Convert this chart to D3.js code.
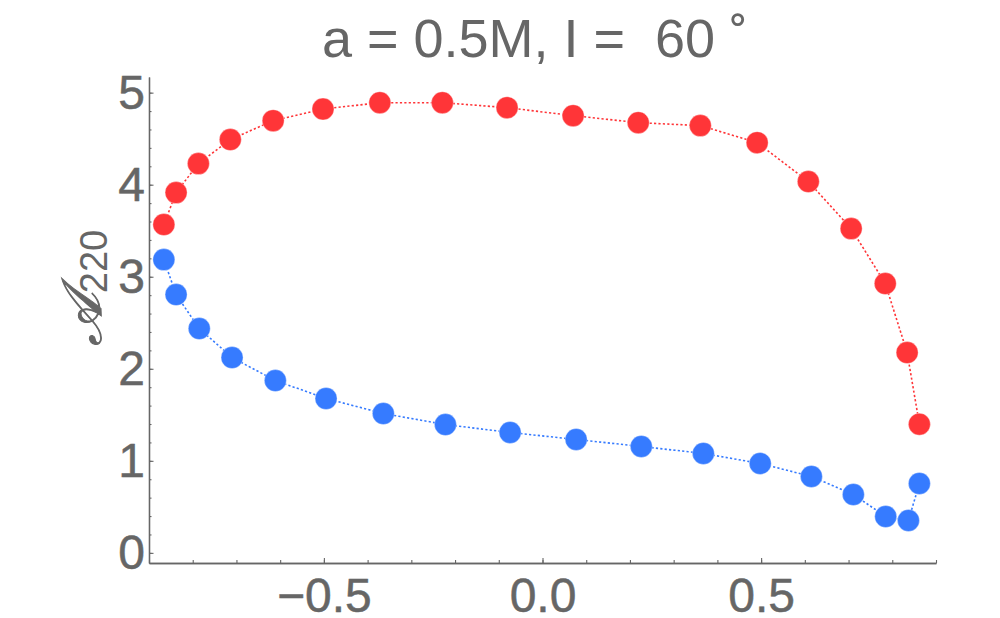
<!DOCTYPE html>
<html>
<head>
<meta charset="utf-8">
<script src="https://cdn.jsdelivr.net/npm/d3@7"></script>
<style>
  body { margin: 0; background: #fff; }
  svg { display: block; font-family: "Liberation Sans", Arial, sans-serif; }
</style>
</head>
<body>
<svg width="1000" height="618"></svg>
<script>
// values
var redX = [-0.866, -0.838, -0.787, -0.714, -0.616, -0.502, -0.372, -0.229, -0.081,
            0.070, 0.219, 0.361, 0.491, 0.608, 0.706, 0.784, 0.834, 0.862];
var redY = [3.567, 3.914, 4.229, 4.490, 4.696, 4.822, 4.891, 4.891, 4.837,
            4.750, 4.674, 4.642, 4.457, 4.034, 3.523, 2.926, 2.176, 1.398];
var blueX = [-0.866, -0.838, -0.785, -0.710, -0.611, -0.495, -0.364, -0.222, -0.074,
             0.077, 0.226, 0.368, 0.498, 0.615, 0.711, 0.785, 0.837, 0.862];
var blueY = [3.186, 2.806, 2.437, 2.122, 1.872, 1.677, 1.514, 1.394, 1.308,
             1.232, 1.156, 1.080, 0.971, 0.830, 0.634, 0.395, 0.352, 0.754];

var xMajor = [-0.5, 0.0, 0.5];
var yMajor = [0, 1, 2, 3, 4, 5];
var titleText = "a = 0.5M, I =  60 \u02DA";

var gray = "#666666";

var svg = d3.select("svg");

var x = d3.scaleLinear().domain([-0.9, 0.9]).range([149, 936]);
var y = d3.scaleLinear().domain([-0.11, 5.17]).range([563, 77]);

// minor ticks
var xMinor = d3.range(-9, 10).map(function(i){ return i / 10; });
var yMinor = d3.range(0, 26).map(function(i){ return i / 5; });

svg.append("g")
  .attr("transform", "translate(" + x(-0.9) + ",0)")
  .call(d3.axisLeft(y).tickValues(yMinor).tickSizeInner(-2.5).tickSizeOuter(0).tickFormat(""));

svg.append("g")
  .attr("transform", "translate(" + x(-0.9) + ",0)")
  .call(d3.axisLeft(y).tickValues(yMajor).tickSizeInner(-4.5).tickSizeOuter(0)
        .tickPadding(4).tickFormat(d3.format("d")));

svg.append("g")
  .attr("transform", "translate(0," + y(-0.11) + ")")
  .call(d3.axisBottom(x).tickValues(xMinor).tickSizeInner(-3).tickSizeOuter(0).tickFormat(""));

svg.append("g")
  .attr("transform", "translate(0," + y(-0.11) + ")")
  .call(d3.axisBottom(x).tickValues(xMajor).tickSizeInner(-5).tickSizeOuter(0)
        .tickPadding(15).tickFormat(d3.format(".1f")));

svg.selectAll(".domain").attr("stroke", gray).attr("stroke-width", 1.3);
svg.selectAll(".tick line").attr("stroke", gray).attr("stroke-width", 1.1);
svg.selectAll(".tick text")
  .attr("fill", gray)
  .attr("stroke", gray)
  .attr("stroke-width", 0.5)
  .style("font-family", "'Liberation Sans', Arial, sans-serif")
  .style("font-size", "48px");

// series
function drawSeries(xs, ys, color){
  var pts = xs.map(function(v, i){ return [v, ys[i]]; });
  var line = d3.line()
    .x(function(d){ return x(d[0]); })
    .y(function(d){ return y(d[1]); });
  svg.append("path")
    .datum(pts)
    .attr("d", line)
    .attr("fill", "none")
    .attr("stroke", color)
    .attr("stroke-width", 1.6)
    .attr("stroke-dasharray", "2.2,2.2");
  svg.append("g").selectAll("circle")
    .data(pts)
    .enter().append("circle")
    .attr("cx", function(d){ return x(d[0]); })
    .attr("cy", function(d){ return y(d[1]); })
    .attr("r", 11)
    .attr("fill", color)
    .attr("stroke", "rgba(255,255,255,0.35)")
    .attr("stroke-width", 1);
}

drawSeries(redX, redY, "#ff3538");
drawSeries(blueX, blueY, "#367bff");

// title
svg.append("text")
  .attr("x", 535)
  .attr("y", 57)
  .attr("text-anchor", "middle")
  .attr("fill", gray)
  .style("font-size", "54px")
  .style("white-space", "pre")
  .attr("xml:space", "preserve")
  .text(titleText);

// y label
var yl = svg.append("text")
  .attr("transform", "translate(101,288) rotate(-90)")
  .attr("text-anchor", "middle")
  .attr("fill", gray);
yl.append("tspan")
  .style("font-family", "'DejaVu Serif', serif")
  .style("font-style", "italic")
  .attr("stroke", gray)
  .attr("stroke-width", 1)
  .style("font-size", "56px")
  .text("\uD835\uDC9C");
yl.append("tspan")
  .attr("dy", 6)
  .style("font-size", "38px")
  .text("220");
</script>
</body>
</html>
